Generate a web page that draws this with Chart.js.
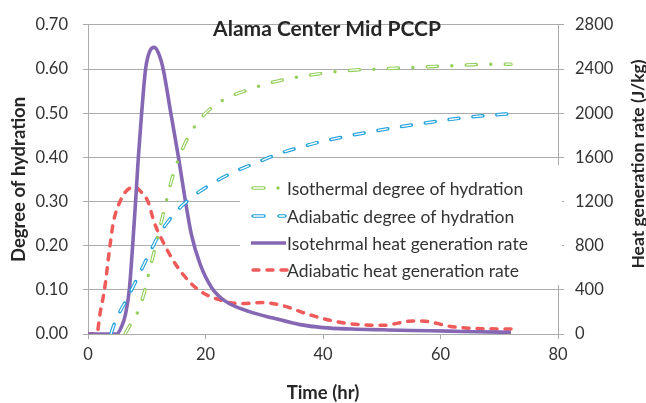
<!DOCTYPE html>
<html>
<head>
<meta charset="utf-8">
<script src="https://cdn.jsdelivr.net/npm/chart.js@4"></script>
<style>
  html, body { margin: 0; padding: 0; background: #fff; }
  #c { display: block; }
</style>
</head>
<body>
<canvas id="c" width="646" height="403"></canvas>
<script>
// ── data ────────────────────────────────────────────────────────────────────
const TITLE = 'Alama Center Mid PCCP';
const Y2_TITLE = 'Heat generation rate (J/kg)';
const X_TICKS = [0, 20, 40, 60, 80];

const isoDohT = [6.3, 7.15, 8.7, 9.7, 10.4, 11.3, 12.8, 13.4, 14.35, 15.5, 16.9, 18.7, 20.9, 23.7, 27.3, 29.7, 32.7, 36.0, 39.2, 42.3, 45.6, 49.0, 52.4, 55.7, 59.1, 62.4, 65.8, 69.1, 72.0];
const isoDoh  = [0, 0.020, 0.057, 0.100, 0.140, 0.189, 0.272, 0.305, 0.354, 0.400, 0.442, 0.480, 0.511, 0.535, 0.553, 0.564, 0.574, 0.583, 0.589, 0.594, 0.598, 0.600, 0.602, 0.604, 0.606, 0.608, 0.610, 0.611, 0.611];

const adiDohT = [3.9, 4.6, 6.6, 8.45, 10.2, 12.25, 14.8, 17.8, 21.3, 24.7, 28.7, 32.4, 36.4, 40.1, 44.5, 48.5, 52.4, 56.4, 60.6, 64.6, 68.9, 72.0];
const adiDoh  = [0, 0.027, 0.079, 0.128, 0.176, 0.228, 0.274, 0.311, 0.342, 0.366, 0.388, 0.408, 0.424, 0.437, 0.449, 0.459, 0.468, 0.476, 0.484, 0.491, 0.496, 0.499];

const isoHeatT = [0, 4.9, 5.7, 6.4, 7.03, 7.6, 8.1, 8.57, 9.13, 9.8, 10.5, 11.3, 12.1, 12.8, 14.1, 15.4, 16.5, 17.6, 19.1, 21.05, 23.3, 27.6, 31.5, 36.1, 40.0, 45.0, 50.2, 55.0, 61.5, 66.0, 72.0];
const isoHeat  = [0, 0, 65, 183, 400, 800, 1200, 1600, 2000, 2400, 2560, 2596, 2530, 2400, 2000, 1600, 1230, 900, 630, 420, 300, 200, 145, 85, 58, 45, 38, 32, 26, 20, 15];

const adiHeatT = [0, 1.5, 2.04, 2.8, 3.74, 4.3, 5.45, 6.6, 7.9, 9.0, 10.2, 11.3, 13.1, 15.4, 18.8, 23.0, 25.9, 29.8, 33.2, 37.2, 41.2, 44.5, 50.2, 55.3, 57.5, 61.5, 66.0, 72.0];
const adiHeat  = [0, 0, 183, 400, 800, 1007, 1200, 1300, 1330, 1290, 1200, 1007, 800, 594, 400, 300, 275, 285, 256, 183, 124, 94, 79, 118, 115, 71, 50, 45];

const LABELS = [
  'Isothermal degree of hydration',
  'Adiabatic degree of hydration',
  'Isotehrmal heat generation rate',
  'Adiabatic heat generation rate',
];

// ───────────────────────────────────────────────────────────────────────────

const GREEN = '#92cf5a', BLUE = '#24a2dc', PURPLE = '#8667b3', RED = '#ef5a5a';
const GRID = '#ababab', TXT = '#333333', BOLD = '#262626';
const FONT = 'Lato, "Open Sans", sans-serif';

const pts = (t, v) => t.map((x, i) => ({ x, y: v[i] }));

const line = (data, axis, color, width, dash, extra) => Object.assign({
  data,
  yAxisID: axis,
  borderColor: color,
  borderWidth: width,
  borderDash: dash,
  pointRadius: 0,
  fill: false,
  cubicInterpolationMode: 'monotone',
}, extra || {});

const roundCap = { borderCapStyle: 'round' };
const hollow = { borderCapStyle: 'round', borderDashOffset: -0.5 };

// chart.js paints the last dataset first, so the white cores come before their outlines
const datasets = [
  line(pts(isoDohT, isoDoh), 'y', '#ffffff', 1.3, [9, 30], hollow),
  line(pts(isoDohT, isoDoh), 'y', GREEN, 3.5, [10, 14.5, 0, 14.5], roundCap),
  line(pts(adiDohT, adiDoh), 'y', '#ffffff', 1.3, [9, 15], hollow),
  line(pts(adiDohT, adiDoh), 'y', BLUE, 3.5, [10, 14], roundCap),
  line(pts(isoHeatT, isoHeat), 'y2', PURPLE, 3.6, []),
  line(pts(adiHeatT, adiHeat), 'y2', RED, 3.5, [6, 8], roundCap),
];

// title, right axis title and legend, drawn inside / beside the plot area
const overlay = {
  id: 'overlay',
  beforeDatasetsDraw(chart) {
    const ctx = chart.ctx;
    ctx.save();
    ctx.fillStyle = '#ffffff';
    ctx.fillRect(240, 165, 322, 120);
    ctx.restore();
  },
  afterDraw(chart) {
    const ctx = chart.ctx;
    ctx.save();
    ctx.fillStyle = BOLD;
    ctx.font = 'bold 21px ' + FONT;
    ctx.textAlign = 'center';
    ctx.textBaseline = 'middle';
    ctx.fillText(TITLE, 327, 29);

    // right axis title reads bottom-to-top
    ctx.save();
    ctx.translate(638, 164);
    ctx.rotate(-Math.PI / 2);
    ctx.font = 'bold 17.5px ' + FONT;
    ctx.fillText(Y2_TITLE, 0, 0);
    ctx.restore();

    const rows = [188, 216, 243, 270];
    ctx.lineCap = 'round';
    // green: hollow dash + dot
    let y = rows[0];
    ctx.strokeStyle = GREEN; ctx.lineWidth = 3.5; ctx.setLineDash([]);
    ctx.beginPath(); ctx.moveTo(253, y); ctx.lineTo(264, y); ctx.stroke();
    ctx.beginPath(); ctx.moveTo(278, y); ctx.lineTo(278, y); ctx.stroke();
    ctx.strokeStyle = '#fff'; ctx.lineWidth = 1.3;
    ctx.beginPath(); ctx.moveTo(253.5, y); ctx.lineTo(263.5, y); ctx.stroke();
    // blue: hollow dashes
    y = rows[1];
    ctx.strokeStyle = BLUE; ctx.lineWidth = 3.5;
    ctx.beginPath(); ctx.moveTo(253, y); ctx.lineTo(264, y); ctx.stroke();
    ctx.beginPath(); ctx.moveTo(279, y); ctx.lineTo(285, y); ctx.stroke();
    ctx.strokeStyle = '#fff'; ctx.lineWidth = 1.3;
    ctx.beginPath(); ctx.moveTo(253.5, y); ctx.lineTo(263.5, y); ctx.stroke();
    ctx.beginPath(); ctx.moveTo(279.5, y); ctx.lineTo(284.5, y); ctx.stroke();
    // purple solid
    y = rows[2];
    ctx.lineCap = 'butt';
    ctx.strokeStyle = PURPLE; ctx.lineWidth = 3.6;
    ctx.beginPath(); ctx.moveTo(251, y); ctx.lineTo(286, y); ctx.stroke();
    // red dashed
    y = rows[3];
    ctx.lineCap = 'round';
    ctx.strokeStyle = RED; ctx.lineWidth = 3.5;
    ctx.setLineDash([6, 8]);
    ctx.beginPath(); ctx.moveTo(253, y); ctx.lineTo(287, y); ctx.stroke();
    ctx.setLineDash([]);

    ctx.fillStyle = TXT;
    ctx.font = '17.5px ' + FONT;
    ctx.textAlign = 'left';
    LABELS.forEach((t, i) => ctx.fillText(t, 287, rows[i] + 1));
    ctx.restore();
  }
};

const tickFont = { family: FONT, size: 16.5 };
const titleFont = { family: FONT, size: 18.5, weight: 'bold', lineHeight: 1 };

new Chart(document.getElementById('c'), {
  type: 'line',
  data: { datasets },
  plugins: [overlay],
  options: {
    responsive: false,
    animation: false,
    layout: { padding: { top: 16, left: 0, right: 0, bottom: 0 }, autoPadding: false },
    plugins: { legend: { display: false }, tooltip: { enabled: false } },
    scales: {
      x: {
        type: 'linear',
        min: 0, max: 80,
        afterBuildTicks: s => { s.ticks = X_TICKS.map(v => ({ value: v })); },
        afterFit: s => { s.height = 69; },
        ticks: { color: TXT, font: tickFont, padding: 6, callback: v => String(v) },
        grid: { drawOnChartArea: false, drawTicks: true, tickLength: 5, color: GRID },
        border: { color: GRID },
        title: { display: true, text: 'Time (hr)', color: BOLD, font: titleFont, padding: { top: 0, bottom: 1 } },
      },
      y: {
        position: 'left',
        min: 0, max: 0.7,
        afterFit: s => { s.width = 88; },
        ticks: { stepSize: 0.1, color: TXT, font: tickFont, padding: 15, callback: v => v.toFixed(2) },
        grid: { color: GRID, tickLength: 5 },
        border: { color: GRID },
        title: { display: true, text: 'Degree of hydration', color: BOLD, font: titleFont, padding: { top: 10, bottom: 0 } },
      },
      y2: {
        position: 'right',
        min: 0, max: 2800,
        afterFit: s => { s.width = 88; },
        ticks: { stepSize: 400, color: TXT, font: tickFont, padding: 11, callback: v => String(v) },
        grid: { drawOnChartArea: false, color: GRID, tickLength: 6 },
        border: { color: GRID },
      },
    },
  },
});
</script>
</body>
</html>
